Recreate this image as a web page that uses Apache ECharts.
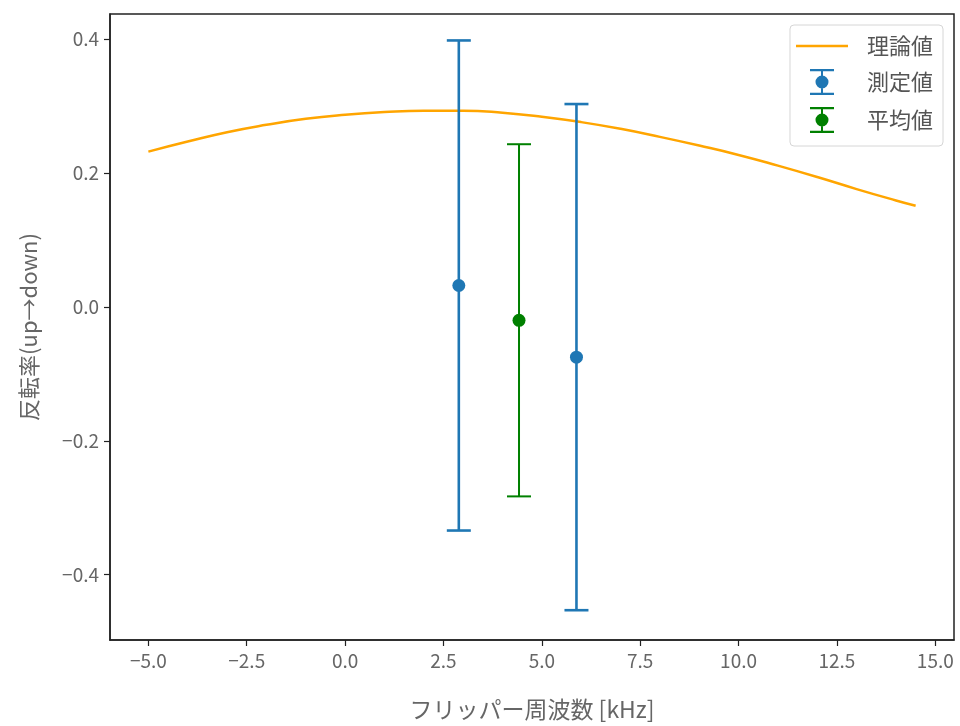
<!DOCTYPE html>
<html><head><meta charset="utf-8">
<script src="https://cdn.jsdelivr.net/npm/echarts@6/dist/echarts.min.js"></script>
<style>html,body{margin:0;padding:0;background:#fff}#c{width:960px;height:726px}</style>
</head><body><div id="c"></div>
<script>
// theory curve
const theoryX = [-5,-4,-3,-2,-1,0,1,2,3,4,5,6,7,8,9,10,11,12,13,14,14.5];
const theoryY = [0.232,0.247,0.261,0.272,0.281,0.287,0.291,0.293,0.293,0.290,0.284,0.276,0.266,0.254,0.241,0.227,0.211,0.194,0.176,0.159,0.151];
// measured values
const measX = [2.89, 5.88];
const measY = [0.032, -0.075];
const measErr = [0.366, 0.378];
// mean value
const meanX = [4.42];
const meanY = [-0.020];
const meanErr = [0.263];
// ticks
const xTicks = [-5,-2.5,0,2.5,5,7.5,10,12.5,15];
const yTicks = [-0.4,-0.2,0,0.2,0.4];

const FONT = '"Noto Sans CJK JP","Noto Sans",sans-serif';
const fmt = v => (v < 0 ? '\u2212' : '') + Math.abs(v).toFixed(1);

function errRender(lineW) {
  return function (params, api) {
    const x = api.value(0), y = api.value(1), e = api.value(2);
    const top = api.coord([x, y + e]);
    const bot = api.coord([x, y - e]);
    const c = api.coord([x, y]);
    const col = api.visual('color');
    const cap = 12;
    return {
      type: 'group',
      children: [
        {type: 'line', shape: {x1: top[0], y1: top[1], x2: bot[0], y2: bot[1]}, style: {stroke: col, lineWidth: lineW}},
        {type: 'line', shape: {x1: top[0]-cap, y1: top[1], x2: top[0]+cap, y2: top[1]}, style: {stroke: col, lineWidth: lineW}},
        {type: 'line', shape: {x1: bot[0]-cap, y1: bot[1], x2: bot[0]+cap, y2: bot[1]}, style: {stroke: col, lineWidth: lineW}},
        {type: 'circle', shape: {cx: c[0], cy: c[1], r: 6.5}, style: {fill: col}}
      ]
    };
  };
}

const errIcon = 'path://M0,0H24V2.2H0Z M11,2H13V24H11Z M0,23.8H24V26H0Z M12,6.5A6.5,6.5 0 1 1 11.99,6.5Z';

const chart = echarts.init(document.getElementById('c'), null, {renderer: 'canvas'});
chart.setOption({
  animation: false,
  backgroundColor: '#fff',
  textStyle: {fontFamily: FONT},
  grid: {left: 110, right: 6, top: 14, bottom: 85, show: true, borderColor: '#222', borderWidth: 1.5, containLabel: false},
  legend: {
    right: 17, top: 25, orient: 'vertical',
    itemWidth: 52, itemHeight: 26, itemGap: 12,
    symbolKeepAspect: true,
    padding: [10, 10, 13, 6],
    backgroundColor: 'rgba(255,255,255,0.8)', borderColor: '#d6d6d6', borderWidth: 1, borderRadius: 4,
    textStyle: {fontFamily: FONT, fontSize: 22, color: '#555', padding: [0, 0, 0, 14]},
    data: [
      {name: '理論値', icon: 'path://M0,0H52V2.5H0Z'},
      {name: '測定値', icon: errIcon},
      {name: '平均値', icon: errIcon}
    ]
  },
  xAxis: {
    type: 'value', min: -5.975, max: 15.475,
    name: 'フリッパー周波数 [kHz]', nameLocation: 'middle', nameGap: 58,
    nameTextStyle: {fontFamily: FONT, fontSize: 23, color: '#666'},
    axisLine: {show: true, onZero: false, lineStyle: {color: '#222', width: 1.5}},
    axisTick: {show: true, inside: false, length: 6, lineStyle: {color: '#222', width: 1.2}, customValues: xTicks},
    axisLabel: {customValues: xTicks, formatter: fmt, fontFamily: FONT, fontSize: 19, color: '#666', margin: 11},
    splitLine: {show: false}
  },
  yAxis: {
    type: 'value', min: -0.4975, max: 0.4375,
    name: '反転率(up→down)', nameLocation: 'middle', nameGap: 70,
    nameTextStyle: {fontFamily: FONT, fontSize: 22, color: '#666'},
    axisLine: {show: true, onZero: false, lineStyle: {color: '#222', width: 1.5}},
    axisTick: {show: true, inside: false, length: 6, lineStyle: {color: '#222', width: 1.2}, customValues: yTicks},
    axisLabel: {customValues: yTicks, formatter: fmt, fontFamily: FONT, fontSize: 19, color: '#666', margin: 11},
    splitLine: {show: false}
  },
  series: [
    {
      name: '理論値', type: 'line', showSymbol: false, smooth: true,
      data: theoryX.map((x, i) => [x, theoryY[i]]),
      lineStyle: {color: '#ffa500', width: 2.5}, itemStyle: {color: '#ffa500'}, z: 2
    },
    {
      name: '測定値', type: 'custom', renderItem: errRender(2.6),
      itemStyle: {color: '#1f77b4'},
      data: measX.map((x, i) => [x, measY[i], measErr[i]]),
      encode: {x: 0, y: 1}, z: 3
    },
    {
      name: '平均値', type: 'custom', renderItem: errRender(2),
      itemStyle: {color: '#008000'},
      data: meanX.map((x, i) => [x, meanY[i], meanErr[i]]),
      encode: {x: 0, y: 1}, z: 3
    }
  ]
});
</script></body></html>
